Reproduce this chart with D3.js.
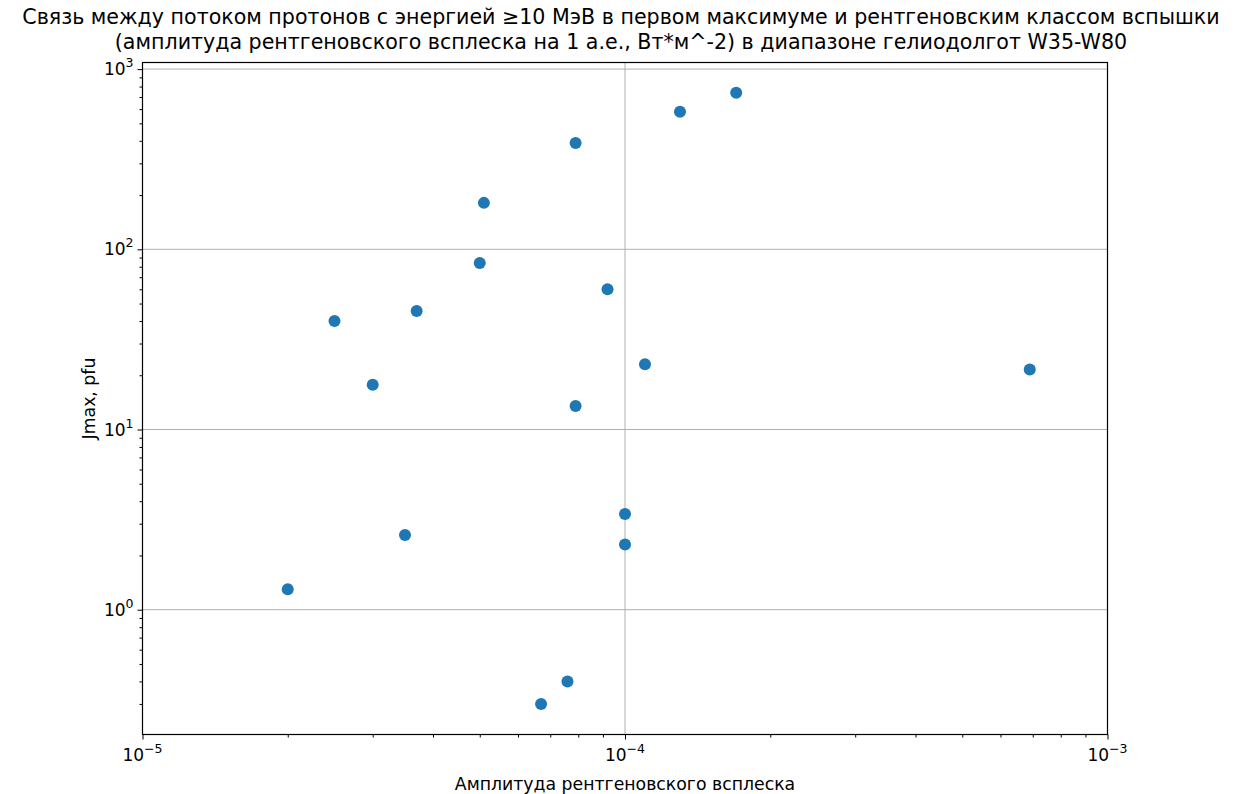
<!DOCTYPE html>
<html>
<head>
<meta charset="utf-8">
<script src="https://cdn.jsdelivr.net/npm/d3@7"></script>
<style>
  body { margin: 0; background: #fff; }
  text { font-family: "DejaVu Sans", sans-serif; fill: #000; }
</style>
</head>
<body>
<svg id="main"></svg>
<script>
const width = 1239;
const height = 794;

// flare X-ray amplitude (W/m^2) and Jmax (pfu)
const amplitude = [2.0e-5, 2.5e-5, 3.0e-5, 3.5e-5, 3.7e-5, 5.0e-5, 5.1e-5, 6.7e-5, 7.6e-5, 7.9e-5, 7.9e-5, 9.2e-5, 1.0e-4, 1.0e-4, 1.1e-4, 1.3e-4, 1.7e-4, 6.9e-4];
const jmax = [1.3, 40, 17.7, 2.6, 45.5, 84, 181, 0.3, 0.4, 389, 13.5, 60, 3.4, 2.3, 23, 580, 740, 21.5];

const xDomain = [1e-5, 1e-3];
const yDomain = [0.203, 1088];
const xMajor = [1e-5, 1e-4, 1e-3];
const yMajor = [1, 10, 100, 1000];

const titleLines = [
  'Связь между потоком протонов с энергией ≥10 МэВ в первом максимуме и рентгеновским классом вспышки',
  '(амплитуда рентгеновского всплеска на 1 а.е., Вт*м^-2) в диапазоне гелиодолгот W35-W80'
];

const margin = {left: 142.5, right: 1239 - 1107.5, top: 62.5, bottom: 794 - 734.5};

const svg = d3.select('#main').attr('width', width).attr('height', height);

const x = d3.scaleLog().domain(xDomain).range([margin.left, width - margin.right]);
const y = d3.scaleLog().domain(yDomain).range([height - margin.bottom, margin.top]);

// minor ticks 2..9 in each decade
function minors(scale) {
  const [a, b] = scale.domain();
  const out = [];
  for (let e = Math.floor(Math.log10(a)); e <= Math.ceil(Math.log10(b)); e++) {
    for (let m = 2; m <= 9; m++) {
      const v = m * Math.pow(10, e);
      if (v >= a && v <= b) out.push(v);
    }
  }
  return out;
}

// grid
svg.append('g').selectAll('line').data(xMajor).join('line')
  .attr('x1', d => x(d)).attr('x2', d => x(d))
  .attr('y1', margin.top).attr('y2', height - margin.bottom)
  .attr('stroke', '#b0b0b0').attr('stroke-width', 1);
svg.append('g').selectAll('line').data(yMajor).join('line')
  .attr('y1', d => y(d)).attr('y2', d => y(d))
  .attr('x1', margin.left).attr('x2', width - margin.right)
  .attr('stroke', '#b0b0b0').attr('stroke-width', 1);

// points
svg.append('g').selectAll('circle').data(amplitude).join('circle')
  .attr('cx', d => x(d))
  .attr('cy', (d, i) => y(jmax[i]))
  .attr('r', 6)
  .attr('fill', '#1f77b4');

// axes
const xAxis = svg.append('g').attr('transform', `translate(0,${height - margin.bottom})`);
xAxis.call(d3.axisBottom(x).tickValues(minors(x)).tickSize(3).tickFormat(''));
xAxis.append('g').call(d3.axisBottom(x).tickValues(xMajor).tickSize(5).tickFormat(''));
const yAxis = svg.append('g').attr('transform', `translate(${margin.left},0)`);
yAxis.call(d3.axisLeft(y).tickValues(minors(y)).tickSize(3).tickFormat(''));
yAxis.append('g').call(d3.axisLeft(y).tickValues(yMajor).tickSize(5).tickFormat(''));
svg.selectAll('.domain').remove();
svg.selectAll('.tick line').attr('stroke', '#000').attr('stroke-width', 1);

// frame
svg.append('rect')
  .attr('x', margin.left).attr('y', margin.top)
  .attr('width', width - margin.left - margin.right)
  .attr('height', height - margin.top - margin.bottom)
  .attr('fill', 'none').attr('stroke', '#000').attr('stroke-width', 1.2);

// tick labels as 10^n
function powLabel(sel, v) {
  const e = Math.round(Math.log10(v));
  sel.append('tspan').text('10');
  sel.append('tspan').attr('dy', -8).attr('font-size', 12.5).text(e < 0 ? '\u2212' + (-e) : e);
}
xMajor.forEach(v => {
  const t = svg.append('text').attr('x', x(v)).attr('y', height - margin.bottom + 26)
    .attr('text-anchor', 'middle').attr('font-size', 17);
  powLabel(t, v);
});
yMajor.forEach(v => {
  const t = svg.append('text').attr('x', margin.left - 9).attr('y', y(v) + 6)
    .attr('text-anchor', 'end').attr('font-size', 17);
  powLabel(t, v);
});

// labels
svg.append('text').attr('x', (margin.left + width - margin.right) / 2).attr('y', 790)
  .attr('text-anchor', 'middle').attr('font-size', 17.3)
  .text('Амплитуда рентгеновского всплеска');
svg.append('text')
  .attr('transform', `translate(95,${(margin.top + height - margin.bottom) / 2}) rotate(-90)`)
  .attr('text-anchor', 'middle').attr('font-size', 17.3)
  .text('Jmax, pfu');

titleLines.forEach((line, i) => {
  svg.append('text').attr('x', 621).attr('y', 24 + i * 25)
    .attr('text-anchor', 'middle').attr('font-size', 20.6)
    .text(line);
});
</script>
</body>
</html>
